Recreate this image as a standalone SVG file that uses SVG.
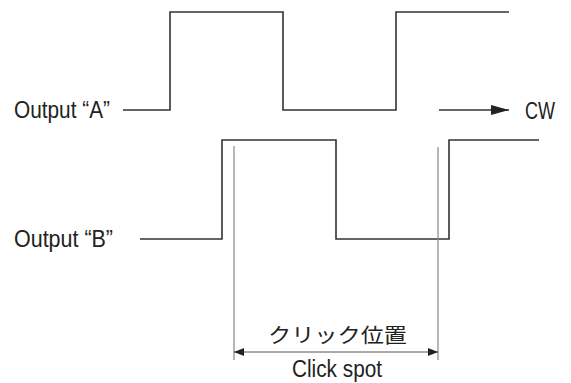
<svg xmlns="http://www.w3.org/2000/svg" width="571" height="383" viewBox="0 0 571 383">
<style>
.wave{fill:none;stroke:#333;stroke-width:1.6}
.ext{fill:none;stroke:#888;stroke-width:1.2}
.dim{fill:none;stroke:#555;stroke-width:1}
text{font-family:"Liberation Sans","Noto Sans CJK JP",sans-serif;font-size:23.5px;fill:#222}
.jp{font-size:20px}
</style>
<defs>
<marker id="ah" viewBox="0 0 10 8" refX="10" refY="4" markerWidth="10" markerHeight="8" markerUnits="userSpaceOnUse" orient="auto-start-reverse"><path d="M0,0 L10,4 L0,8 z" fill="#222"/></marker>
<marker id="ahbig" viewBox="0 0 18 10" refX="18" refY="5" markerWidth="18" markerHeight="10" markerUnits="userSpaceOnUse" orient="auto"><path d="M0,0 L18,5 L0,10 z" fill="#222"/></marker>
</defs>
<g id="signal-a">
<path class="wave" d="M123,110 H170 V12 H283 V110 H396 V12 H509"/>
<text x="14" y="118" textLength="96" lengthAdjust="spacingAndGlyphs">Output “A”</text>
</g>
<g id="signal-b">
<path class="wave" d="M140,239 H222 V140 H336 V239 H449 V140 H539"/>
<text x="14" y="247" textLength="99" lengthAdjust="spacingAndGlyphs">Output “B”</text>
</g>
<g id="direction">
<text x="525" y="119" textLength="30" lengthAdjust="spacingAndGlyphs">CW</text>
</g>
<g id="click-spot">
<text class="jp" x="268" y="343" textLength="139" lengthAdjust="spacingAndGlyphs">クリック位置</text>
<text x="292" y="377" textLength="90" lengthAdjust="spacingAndGlyphs">Click spot</text>
</g>
<g id="connectors">
<line class="wave" x1="439" y1="110" x2="509" y2="110" marker-end="url(#ahbig)"/>
<line class="ext" x1="234" y1="146" x2="234" y2="360"/>
<line class="ext" x1="438" y1="147" x2="438" y2="360"/>
<line class="dim" x1="234" y1="352" x2="438" y2="352" marker-start="url(#ah)" marker-end="url(#ah)"/>
</g>
</svg>
